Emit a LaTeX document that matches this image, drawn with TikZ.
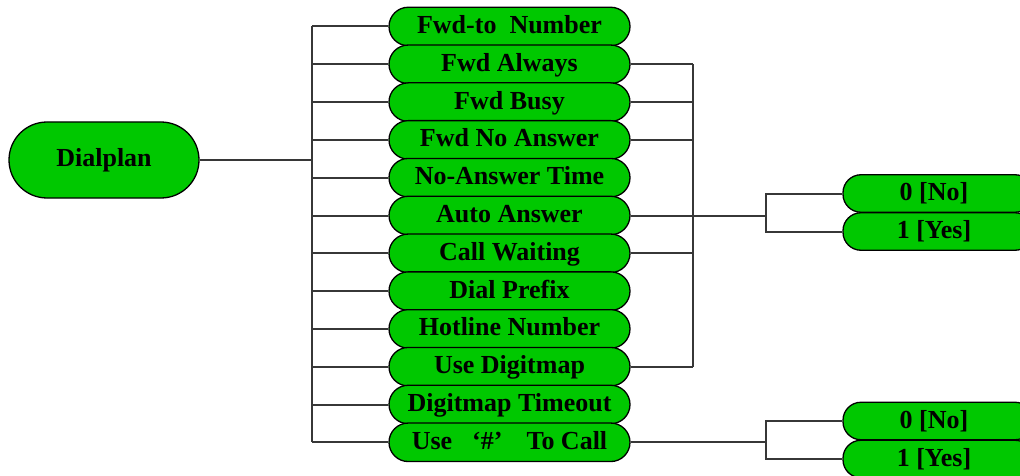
\documentclass[tikz,border=0pt]{standalone}
\usepackage{fontspec}
\setmainfont{Liberation Serif}
\usetikzlibrary{shapes.misc}
\definecolor{boxgreen}{RGB}{0,200,0}
\definecolor{linegray}{RGB}{55,55,55}
\tikzset{
  pill/.style={rounded rectangle, draw=black, line width=1.3pt, fill=boxgreen,
    inner sep=1pt, font=\bfseries\fontsize{26}{30}\selectfont, text=black,
    text height=17pt, text depth=3pt},
  midbox/.style={pill, minimum width=243pt, minimum height=38.5pt},
  rightbox/.style={rectangle, rounded corners=18pt, draw=black, line width=1.3pt, fill=boxgreen,
    inner sep=1pt, font=\bfseries\fontsize{26}{30}\selectfont, text=black,
    text height=17pt, text depth=3pt,
    minimum width=190pt, minimum height=37.5pt},
  conn/.style={draw=linegray, line width=2pt}
}
\begin{document}
\begin{tikzpicture}[x=1pt,y=-1pt]
\useasboundingbox (0,0) rectangle (1020,476);
\clip (0,0) rectangle (1020,476);
\node[pill, minimum width=192pt, minimum height=76pt] (dial) at (104,160) {Dialplan};
\coordinate (t) at (312,0);
\coordinate (r) at (693,0);
\coordinate (k) at (766,0);
% middle column
\node[midbox] (b1) at (509.5,26.5) {Fwd-to\ \ Number};
\node[midbox] (b2) at (509.5,64.3) {Fwd Always};
\node[midbox] (b3) at (509.5,102.1) {Fwd Busy};
\node[midbox] (b4) at (509.5,139.9) {Fwd No Answer};
\node[midbox] (b5) at (509.5,177.7) {No-Answer Time};
\node[midbox] (b6) at (509.5,215.5) {Auto Answer};
\node[midbox] (b7) at (509.5,253.3) {Call Waiting};
\node[midbox] (b8) at (509.5,291.1) {Dial Prefix};
\node[midbox] (b9) at (509.5,328.9) {Hotline Number};
\node[midbox] (b10) at (509.5,366.7) {Use Digitmap};
\node[midbox] (b11) at (509.5,404.5) {Digitmap Timeout};
\node[midbox] (b12) at (509.5,442.3) {Use\hspace{20pt}‘\#’\hspace{24pt}To Call};
% right boxes
\node[rightbox] (no1) at (938,193.5) {\hspace*{-4pt}0 [No]\hspace*{4pt}};
\node[rightbox] (yes1) at (938,231.5) {\hspace*{-4pt}1 [Yes]\hspace*{4pt}};
\node[rightbox] (no2) at (938,421) {\hspace*{-4pt}0 [No]\hspace*{4pt}};
\node[rightbox] (yes2) at (938,459) {\hspace*{-4pt}1 [Yes]\hspace*{4pt}};
% trunk from Dialplan
\draw[conn] (dial.east) -- (dial.east -| t);
\draw[conn] (b1.west -| t) -- (b12.west -| t);
\foreach \i in {1,...,12} { \draw[conn] (b\i.west -| t) -- (b\i.west); }
% right trunk
\draw[conn] (b2.east -| r) -- (b10.east -| r);
\foreach \i in {2,3,4,7,10} { \draw[conn] (b\i.east) -- (b\i.east -| r); }
\draw[conn] (b6.east) -- (b6.east -| k);
\draw[conn] (no1.west) -- (no1.west -| k) -- (yes1.west -| k) -- (yes1.west);
\draw[conn] (b12.east) -- (b12.east -| k);
\draw[conn] (no2.west) -- (no2.west -| k) -- (yes2.west -| k) -- (yes2.west);
\end{tikzpicture}
\end{document}
